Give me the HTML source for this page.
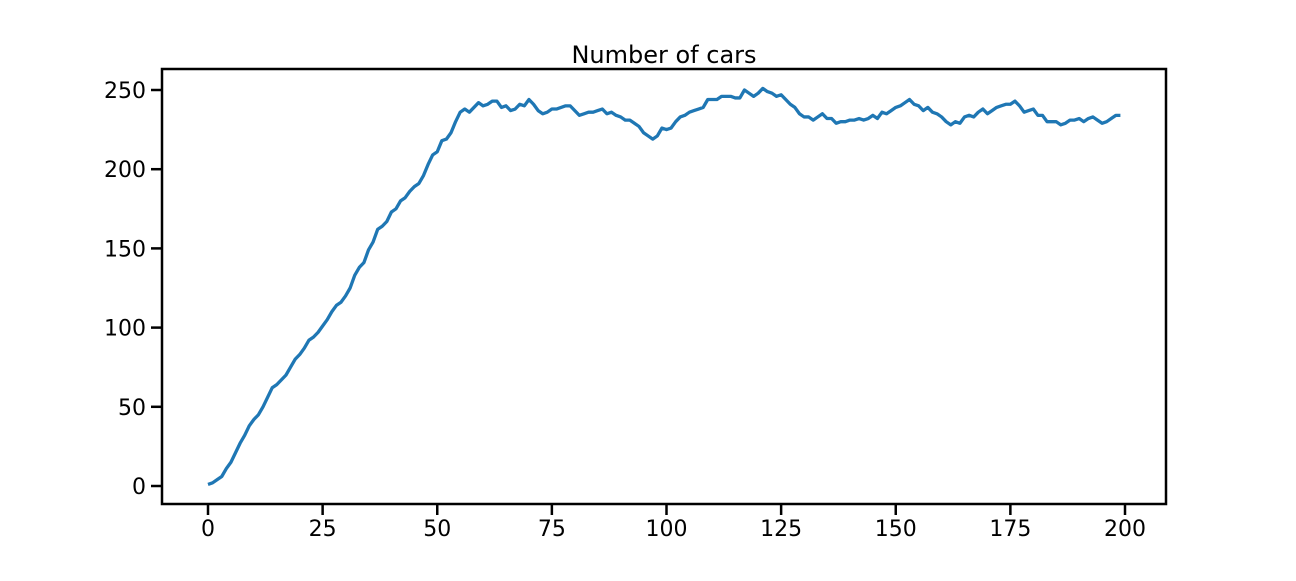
<!DOCTYPE html>
<html><head><meta charset="utf-8"><style>
body{margin:0;background:#fff;}
svg text{font-family:"DejaVu Sans","Liberation Sans",sans-serif;fill:#000;}
</style></head><body>
<svg id="chart" width="1296" height="576" xmlns="http://www.w3.org/2000/svg">
<rect width="1296" height="576" fill="#fff"/>
<text x="664" y="63" font-size="24" text-anchor="middle">Number of cars</text>
<g id="axes"></g>
<path id="line" fill="none" stroke="#1f77b4" stroke-width="3.3" stroke-linejoin="round"/>
<rect x="162" y="69" width="1004" height="435" fill="none" stroke="#000" stroke-width="2.5"/>
</svg>
<script>
const values=[1,2,4,6,11,15,21,27,32,38,42,45,50,56,62,64,67,70,75,80,83,87,92,94,97,101,105,110,114,116,120,125,133,138,141,149,154,162,164,167,173,175,180,182,186,189,191,196,203,209,211,218,219,223,230,236,238,236,239,242,240,241,243,243,239,240,237,238,241,240,244,241,237,235,236,238,238,239,240,240,237,234,235,236,236,237,238,235,236,234,233,231,231,229,227,223,221,219,221,226,225,226,230,233,234,236,237,238,239,244,244,244,246,246,246,245,245,250,248,246,248,251,249,248,246,247,244,241,239,235,233,233,231,233,235,232,232,229,230,230,231,231,232,231,232,234,232,236,235,237,239,240,242,244,241,240,237,239,236,235,233,230,228,230,229,233,234,233,236,238,235,237,239,240,241,241,243,240,236,237,238,234,234,230,230,230,228,229,231,231,232,230,232,233,231,229,230,232,234,234];
const xTicks=[0,25,50,75,100,125,150,175,200];
const yTicks=[0,50,100,150,200,250];
const xs=v=>208+(v)*(1125-208)/200;
const ys=v=>486-(v)*(486-90)/250;
const ns="http://www.w3.org/2000/svg";
const ax=document.getElementById('axes');
function mk(t,a){const e=document.createElementNS(ns,t);for(const k in a)e.setAttribute(k,a[k]);return e;}
xTicks.forEach(t=>{
 const l=mk('line',{x1:xs(t),x2:xs(t),y1:504,y2:515,stroke:'#000','stroke-width':2.5});
 
 
 ax.appendChild(l);
 const tx=mk('text',{x:xs(t),y:536,'font-size':22,'text-anchor':'middle'});
 
 
 tx.textContent=t;ax.appendChild(tx);
});
yTicks.forEach(t=>{
 const l=mk('line',{x1:151,x2:162,y1:ys(t),y2:ys(t),stroke:'#000','stroke-width':2.5});
 
 
 ax.appendChild(l);
 const tx=mk('text',{x:146,y:ys(t)+8,'font-size':22,'text-anchor':'end'});
 
 
 tx.textContent=t;ax.appendChild(tx);
});
document.getElementById('line').setAttribute('d',values.map((v,i)=>(i?'L':'M')+xs(i).toFixed(2)+','+ys(v).toFixed(2)).join(''));
</script>
</body></html>
